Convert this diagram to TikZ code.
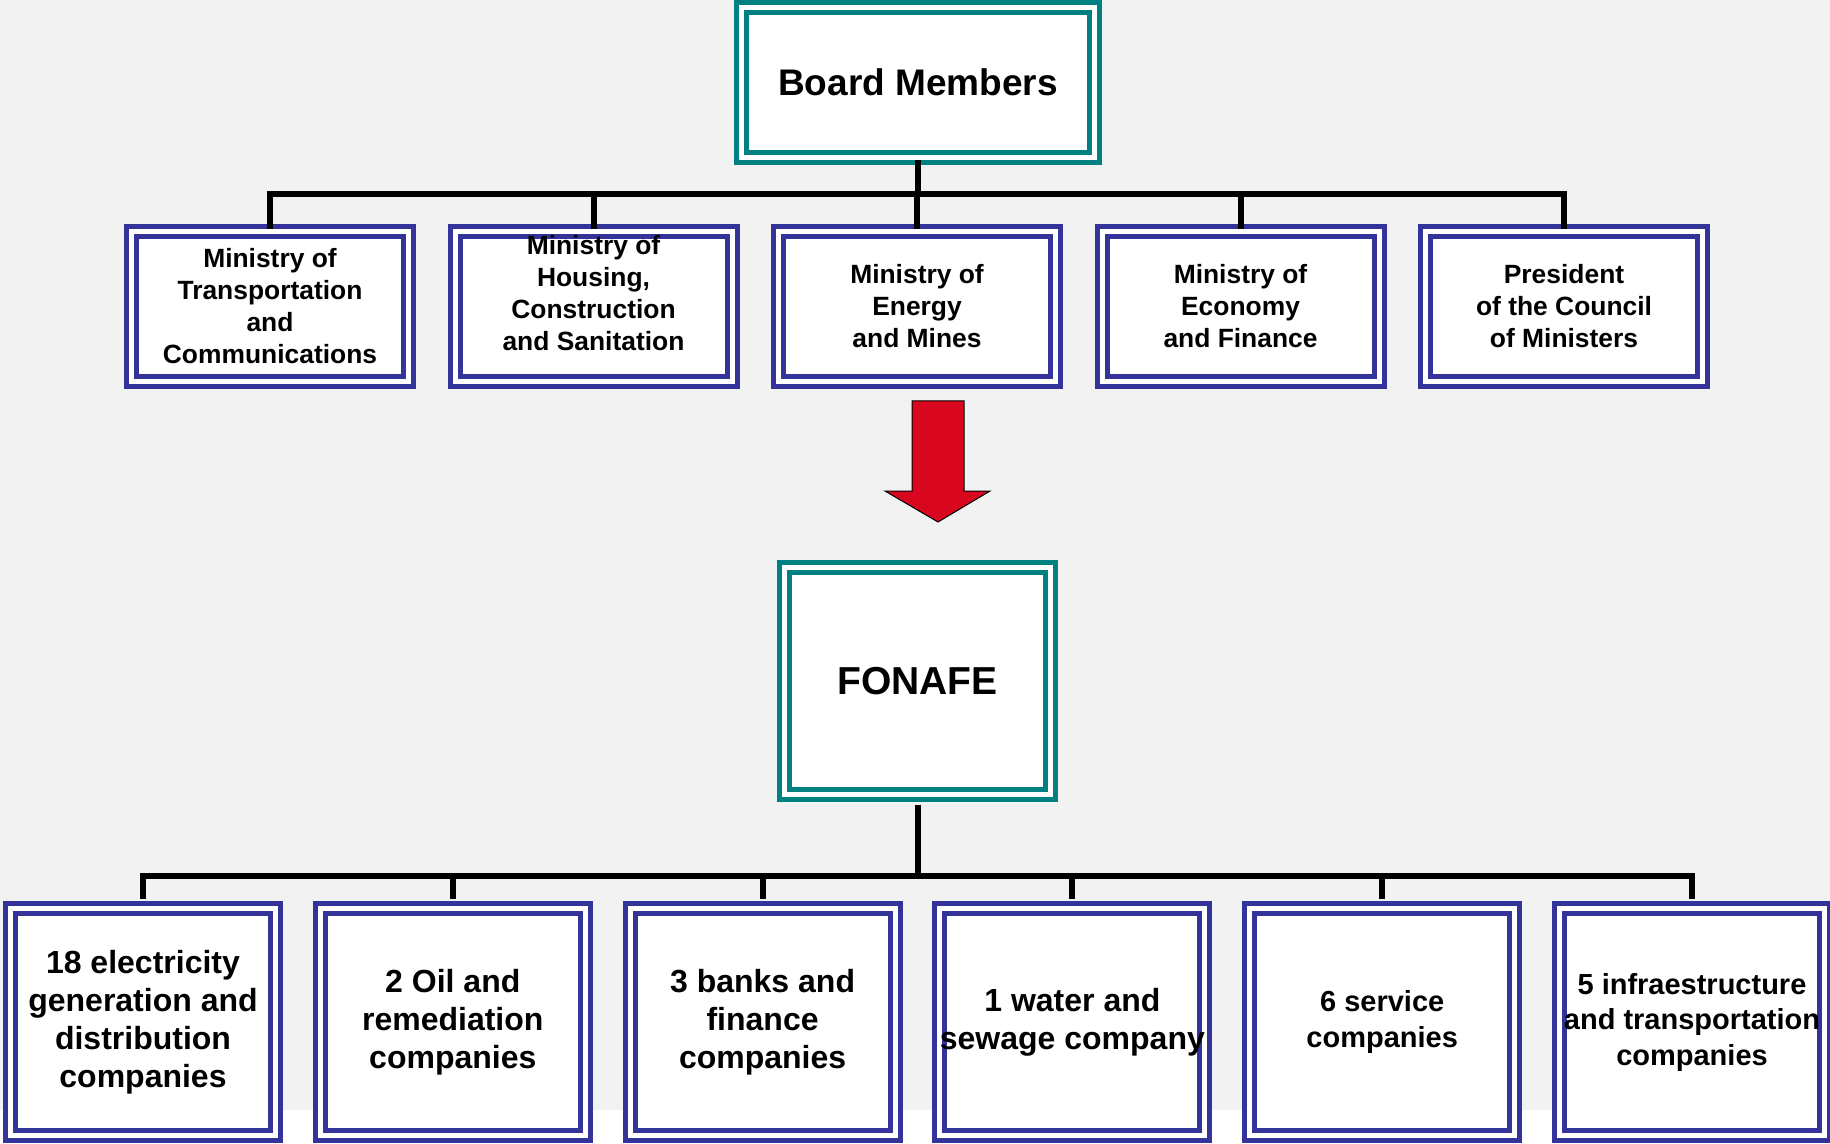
\documentclass[tikz,border=0pt]{standalone}
\usepackage{fontspec}
\setmainfont{Liberation Sans}
\usepackage{tikz}
\usetikzlibrary{calc}
\definecolor{boardteal}{RGB}{0,128,128}
\definecolor{unitblue}{RGB}{51,51,153}
\definecolor{arrowred}{RGB}{217,6,32}
\definecolor{slidegray}{RGB}{242,242,242}

\begin{document}
\begin{tikzpicture}[x=0.5pt,y=-0.5pt,
        dblbox/.style={draw=#1,fill=white,line width=2.5pt,double=white,
            double distance=2.5pt,inner sep=0pt,align=center},
        boardbox/.style={dblbox=boardteal,minimum width=176.5pt,minimum height=75pt},
        fundbox/.style={dblbox=boardteal,minimum width=133pt,minimum height=113.5pt},
        ministry/.style={dblbox=unitblue,minimum width=138.5pt,minimum height=75pt,
            font=\fontsize{13.2}{16}\selectfont\bfseries},
        company/.style={dblbox=unitblue,minimum width=132.5pt,minimum height=113.5pt,
            font=\fontsize{16}{19}\selectfont\bfseries},
        smallcompany/.style={company,font=\fontsize{14.5}{17.75}\selectfont\bfseries},
        link/.style={line width=3pt}]
                        % slide background
                        \fill[white] (0,0) rectangle (1830,1144);
                        \fill[slidegray] (0,0) rectangle (1830,1110);
                        \useasboundingbox (0,0) rectangle (1830,1144);
                        % top level
                        \node[boardbox,font=\fontsize{18.5}{22}\selectfont\bfseries] (board) at (918,82.5) {Board Members};
                        \node[ministry] (m1) at (270,306.5) {Ministry of\\Transportation\\and\\Communications};
                        \node[ministry] (m2) at (593.5,306.5) {};
                        \node[ministry,draw=none,fill=none] (m2text) at (593.5,293) {Ministry of\\Housing,\\Construction\\and Sanitation};
                        \node[ministry] (m3) at (917,306.5) {Ministry of\\Energy\\and Mines};
                        \node[ministry] (m4) at (1240.5,306.5) {Ministry of\\Economy\\and Finance};
                        \node[ministry] (m5) at (1564,306.5) {President\\of the Council\\of Ministers};
                        \coordinate (topbus) at (0,194);
                        \draw[link] (board.south) -- (board.south |- topbus);
                        \draw[link] (m1.north) -- (m1.north |- topbus) -- (m5.north |- topbus) -- (m5.north);
                        \foreach \i in {2,3,4}
                            \draw[link] (m\i.north |- topbus) -- (m\i.north);
                        % big arrow
                        \filldraw[fill=arrowred,draw=black,line width=0.5pt]
                            (912,401) -- (964,401) -- (964,491) -- (990,491) -- (938,522)
                            -- (885,491) -- (912,491) -- cycle;
                        % FONAFE and its companies
                        \node[fundbox,font=\fontsize{19.5}{23}\selectfont\bfseries] (fonafe) at (917.5,681) {FONAFE};
                        \node[company] (c1) at (143,1022) {18 electricity\\generation and\\distribution\\companies};
                        \node[company] (c2) at (452.8,1022) {2 Oil and\\remediation\\companies};
                        \node[company] (c3) at (762.6,1022) {3 banks and\\finance\\companies};
                        \node[company] (c4) at (1072.4,1022) {1 water and\\sewage company};
                        \node[smallcompany] (c5) at (1382.2,1022) {6 service\\companies};
                        \node[smallcompany] (c6) at (1692,1022) {5 infraestructure\\and transportation\\companies};
                        \coordinate (botbus) at (0,876);
                        \draw[link,shorten <=3.75pt] (fonafe.south) -- (fonafe.south |- botbus);
                        \draw[link,shorten <=3.75pt,shorten >=3.75pt] (c1.north) -- (c1.north |- botbus)
                            -- (c6.north |- botbus) -- (c6.north);
                        \foreach \i in {2,...,5}
                            \draw[link,shorten >=3.75pt] (c\i.north |- botbus) -- (c\i.north);
                    \end{tikzpicture}
\end{document}
